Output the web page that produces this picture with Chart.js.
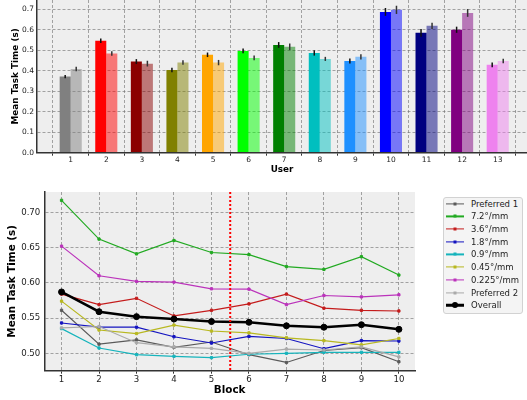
<!DOCTYPE html>
<html>
<head>
<meta charset="utf-8">
<script src="https://cdn.jsdelivr.net/npm/chart.js@4/dist/chart.umd.min.js"></script>
<style>
  html, body { margin: 0; padding: 0; background: #fff; }
  body { width: 527px; height: 400px; position: relative; overflow: hidden; font-family: 'DejaVu Sans', sans-serif; }
  #top-wrap { position: absolute; left: 0; top: 0; width: 527px; height: 178px; }
  #bottom-wrap { position: absolute; left: 0; top: 176px; width: 420px; height: 224px; }
  #legend { position: absolute; left: 443px; top: 197px; width: 80px; height: 117px; box-sizing: border-box;
            border: 1px solid #d2d2d2; border-radius: 3px; background: #f4f4f4; }
  .lg-row { position: absolute; left: 0; width: 78px; height: 12.7px; }
  .lg-line { position: absolute; left: 2px; width: 18px; top: 50%; transform: translateY(-50%); }
  .lg-mark { position: absolute; left: 11px; top: 50%; transform: translate(-50%, -50%); }
  .lg-text { position: absolute; left: 27px; top: 50%; transform: translateY(-50%); font-size: 8.5px; color: #222; white-space: nowrap; }
</style>
</head>
<body>
<div id="top-wrap"><canvas id="bar-chart" width="527" height="178"></canvas></div>
<div id="bottom-wrap"><canvas id="line-chart" width="420" height="224"></canvas></div>
<div id="legend"></div>
<script>
// ── Top panel: mean task time per user ─────────────────────────
const users = [1, 2, 3, 4, 5, 6, 7, 8, 9, 10, 11, 12, 13];
const userColors = ['#808080', '#ff0000', '#8b0000', '#808000', '#ffa500', '#00ff00', '#008000',
                    '#00bfbf', '#1e90ff', '#0000ff', '#000080', '#800080', '#ee82ee'];
const firstTimes  = [0.371, 0.545, 0.444, 0.403, 0.477, 0.496, 0.525, 0.486, 0.447, 0.686, 0.584, 0.599, 0.428];
const firstErr    = [0.008, 0.011, 0.012, 0.011, 0.011, 0.012, 0.014, 0.013, 0.012, 0.019, 0.019, 0.015, 0.012];
const secondTimes = [0.408, 0.483, 0.434, 0.439, 0.439, 0.462, 0.516, 0.457, 0.467, 0.696, 0.618, 0.681, 0.447];
const secondErr   = [0.011, 0.011, 0.014, 0.011, 0.013, 0.011, 0.016, 0.010, 0.013, 0.020, 0.015, 0.019, 0.011];
const barTicks = [0.0, 0.1, 0.2, 0.3, 0.4, 0.5, 0.6, 0.7];

// ── Bottom panel: mean task time per block ─────────────────────
const blocks = [1, 2, 3, 4, 5, 6, 7, 8, 9, 10];
const lineTicks = [0.50, 0.55, 0.60, 0.65, 0.70];
const splitAt = 5.5;
const seriesNames = ['Preferred 1', '7.2°/mm', '3.6°/mm', '1.8°/mm', '0.9°/mm', '0.45°/mm', '0.225°/mm', 'Preferred 2', 'Overall'];
const seriesColors = ['#5a5a5a', '#22aa22', '#c41c1c', '#1414c0', '#16b4bc', '#b8b820', '#bb33bb', '#aaaaaa', '#000000'];
const preferred1 = [0.561, 0.513, 0.519, 0.5085, 0.516, 0.498, 0.487, 0.504, 0.508, 0.488];
const gain72     = [0.717, 0.662, 0.641, 0.660, 0.643, 0.640, 0.623, 0.619, 0.637, 0.611];
const gain36     = [0.584, 0.569, 0.578, 0.553, 0.561, 0.570, 0.584, 0.564, 0.561, 0.560];
const gain18     = [0.543, 0.537, 0.537, 0.5235, 0.5146, 0.524, 0.521, 0.5065, 0.518, 0.5174];
const gain09     = [0.535, 0.5075, 0.498, 0.4957, 0.4938, 0.4986, 0.500, 0.5014, 0.5014, 0.5014];
const gain045    = [0.574, 0.533, 0.528, 0.540, 0.5316, 0.529, 0.522, 0.518, 0.512, 0.521];
const gain0225   = [0.652, 0.610, 0.602, 0.601, 0.5915, 0.591, 0.569, 0.582, 0.580, 0.583];
const preferred2 = [0.536, 0.538, 0.515, 0.509, 0.507, 0.500, 0.506, 0.5047, 0.509, 0.4948];
const overall    = [0.587, 0.559, 0.552, 0.5486, 0.545, 0.544, 0.539, 0.537, 0.5405, 0.534];
const seriesValues = [preferred1, gain72, gain36, gain18, gain09, gain045, gain0225, preferred2, overall];

Chart.defaults.font.family = "'DejaVu Sans', sans-serif";
Chart.defaults.color = '#222';

const GRID = 'rgba(110, 110, 110, 0.6)';

function fade(hex, a) {
  const n = parseInt(hex.slice(1), 16);
  return `rgba(${n >> 16}, ${(n >> 8) & 255}, ${n & 255}, ${a})`;
}

// grey plot face behind the grid
const plotBackground = {
  id: 'plotBackground',
  beforeDraw(chart) {
    const { ctx, chartArea: a } = chart;
    ctx.save();
    ctx.fillStyle = '#eeeeee';
    ctx.fillRect(a.left, a.top, a.right - a.left, a.bottom - a.top);
    ctx.restore();
  }
};

// vertical error bars on top of each bar
const errorBars = {
  id: 'errorBars',
  afterDatasetsDraw(chart) {
    const { ctx, scales: { y } } = chart;
    chart.data.datasets.forEach((ds, di) => {
      if (!ds.errors) return;
      const meta = chart.getDatasetMeta(di);
      ctx.save();
      ctx.strokeStyle = ds.errorColor;
      ctx.lineWidth = 1.5;
      meta.data.forEach((bar, i) => {
        const v = ds.data[i].y, e = ds.errors[i];
        ctx.beginPath();
        ctx.moveTo(bar.x, y.getPixelForValue(v - e));
        ctx.lineTo(bar.x, y.getPixelForValue(v + e));
        ctx.stroke();
      });
      ctx.restore();
    });
  }
};

// red dotted separator between the two halves of the session
const splitLine = {
  id: 'splitLine',
  afterDatasetsDraw(chart) {
    const { ctx, chartArea: a, scales: { x } } = chart;
    const px = x.getPixelForValue(splitAt);
    ctx.save();
    ctx.strokeStyle = '#ff0000';
    ctx.lineWidth = 2;
    ctx.setLineDash([2, 2]);
    ctx.beginPath();
    ctx.moveTo(px, a.top);
    ctx.lineTo(px, a.bottom);
    ctx.stroke();
    ctx.restore();
  }
};

function axisBorder() {
  return { display: true, color: '#333', width: 1.5, dash: [3, 2], z: 1 };
}

new Chart(document.getElementById('bar-chart'), {
  type: 'bar',
  data: {
    datasets: [
      {
        data: users.map((u, i) => ({ x: u, y: firstTimes[i] })),
        backgroundColor: userColors,
        errors: firstErr,
        errorColor: '#111',
      },
      {
        data: users.map((u, i) => ({ x: u, y: secondTimes[i] })),
        backgroundColor: userColors.map(c => fade(c, 0.5)),
        errors: secondErr,
        errorColor: '#333',
      },
    ],
  },
  options: {
    responsive: false,
    animation: false,
    devicePixelRatio: 1,
    layout: { padding: 0 },
    datasets: { bar: { categoryPercentage: 0.62, barPercentage: 1.0 } },
    plugins: { legend: { display: false }, tooltip: { enabled: false } },
    scales: {
      x: {
        type: 'linear', min: 0.053, max: 13.823, offset: false,
        afterBuildTicks: s => { s.ticks = users.map(v => ({ value: v })); },
        afterFit: s => { s.height = 25.3; s.paddingLeft = 0; s.paddingRight = 0; },
        ticks: { font: { size: 7.5 }, padding: 0, maxRotation: 0, autoSkip: false },
        grid: { color: GRID, lineWidth: 1, tickLength: 3, tickColor: '#333', tickWidth: 1, tickBorderDash: [] },
        border: axisBorder(),
        title: { display: true, text: 'User', color: '#000', font: { size: 8.8, weight: 'bold' }, padding: { top: 0, bottom: 3 } },
      },
      y: {
        min: 0, max: 0.744,
        afterBuildTicks: s => { s.ticks = barTicks.map(v => ({ value: v })); },
        afterFit: s => { s.width = 37; s.paddingTop = 0; s.paddingBottom = 0; },
        ticks: { font: { size: 7.5 }, padding: 3, callback: v => v.toFixed(1) },
        grid: { color: GRID, lineWidth: 1, drawTicks: false },
        border: axisBorder(),
        title: { display: true, text: 'Mean Task Time (s)', color: '#000', font: { size: 8.9, weight: 'bold' }, padding: { top: 10, bottom: 0 } },
      },
    },
  },
  plugins: [plotBackground, errorBars],
});

new Chart(document.getElementById('line-chart'), {
  type: 'line',
  data: {
    datasets: seriesNames.map((name, si) => {
      const isOverall = name === 'Overall';
      return {
        label: name,
        data: blocks.map((b, i) => ({ x: b, y: seriesValues[si][i] })),
        borderColor: seriesColors[si],
        backgroundColor: seriesColors[si],
        borderWidth: isOverall ? 2.5 : 1.2,
        pointStyle: isOverall ? 'circle' : 'rect',
        pointRadius: isOverall ? 3 : 1.6,
        pointBorderWidth: 1,
        tension: 0,
        fill: false,
        order: seriesNames.length - si,
      };
    }),
  },
  options: {
    responsive: false,
    animation: false,
    devicePixelRatio: 1,
    layout: { padding: { top: 16, left: 0, right: 0, bottom: 0 } },
    plugins: { legend: { display: false }, tooltip: { enabled: false } },
    scales: {
      x: {
        type: 'linear', min: 0.54, max: 10.43,
        afterBuildTicks: s => { s.ticks = blocks.map(v => ({ value: v })); },
        afterFit: s => { s.height = 29.3; s.paddingLeft = 0; s.paddingRight = 0; },
        ticks: { font: { size: 8.6 }, padding: 1, maxRotation: 0, autoSkip: false },
        grid: { color: GRID, lineWidth: 1, tickLength: 3, tickColor: '#333', tickWidth: 1, tickBorderDash: [] },
        border: axisBorder(),
        title: { display: true, text: 'Block', color: '#000', font: { size: 10.4, weight: 'bold' }, padding: { top: 0, bottom: 3 } },
      },
      y: {
        min: 0.4753, max: 0.7288,
        afterBuildTicks: s => { s.ticks = lineTicks.map(v => ({ value: v })); },
        afterFit: s => { s.width = 44.3; s.paddingTop = 0; s.paddingBottom = 0; },
        ticks: { font: { size: 8.6 }, padding: 4, callback: v => v.toFixed(2) },
        grid: { color: GRID, lineWidth: 1, drawTicks: false },
        border: axisBorder(),
        title: { display: true, text: 'Mean Task Time (s)', color: '#000', font: { size: 10.4, weight: 'bold' }, padding: { top: 6, bottom: 0 } },
      },
    },
  },
  plugins: [plotBackground, splitLine],
});

// ── Legend for the block plot ──────────────────────────────────
const legend = document.getElementById('legend');
seriesNames.forEach((name, i) => {
  const isOverall = name === 'Overall';
  const row = document.createElement('div');
  row.className = 'lg-row';
  row.style.top = (-0.6 + i * 12.68) + 'px';
  const c = seriesColors[i];
  const mark = isOverall
    ? `width:6px;height:6px;border-radius:50%;background:${c}`
    : `width:3px;height:3px;background:${c}`;
  row.innerHTML = `
    <div class="lg-line" style="height:${isOverall ? 2.5 : 1.2}px;background:${c}"></div>
    <div class="lg-mark" style="${mark}"></div>
    <div class="lg-text">${name}</div>
  `;
  legend.appendChild(row);
});
</script>
</body>
</html>
